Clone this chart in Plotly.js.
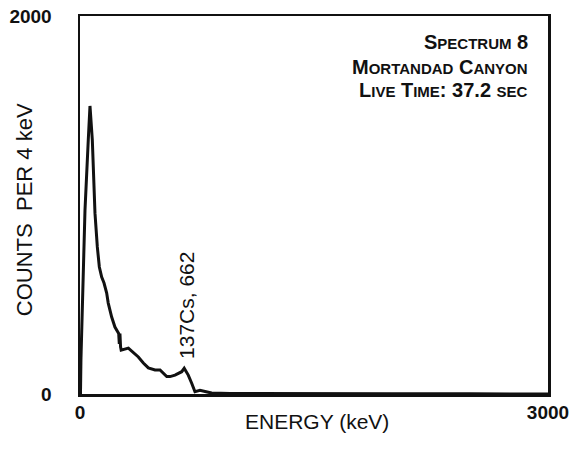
<!DOCTYPE html>
<html>
<head>
<meta charset="utf-8">
<script src="https://cdn.plot.ly/plotly-3.0.1.min.js"></script>
<style>html,body{margin:0;padding:0;background:#fff;}#chart{width:576px;height:461px;}</style>
</head>
<body>
<div id="chart"></div>
<script>
// Spectrum (energy in keV, counts per 4 keV)
const energy = [0, 3, 6, 13, 19, 32, 53, 64, 79, 96, 111, 124, 139, 154, 171, 181, 203, 224, 246,
  248, 252, 256, 260, 264, 310, 342, 374, 406, 438, 481, 513, 556, 577, 609, 652, 668, 694, 716,
  737, 769, 812, 844, 961, 1200, 1500, 2000, 2500, 3000];
const counts = [0, 0, 180, 392, 550, 973, 1344, 1524, 1344, 957, 778, 672, 619, 587, 534, 481, 407, 354, 323,
  320, 265, 320, 250, 232, 243, 222, 196, 164, 138, 127, 127, 92, 92, 100, 118, 136, 100, 57,
  12, 19, 12, 5, 3, 2, 1, 1, 1, 0];

const xTickVals = [0, 3000];
const xTickText = ['0', '3000'];
const yTickVals = [0, 2000];
const yTickText = ['0', '2000'];

const xTitle = 'ENERGY (keV)';
const yTitle = 'COUNTS\u00A0 PER 4 keV';
const peakLabel = '137Cs, 662';
const peakEnergy = 686;
const peakLabelCounts = 466;
const infoLines = ['Spectrum 8', 'Mortandad Canyon', 'Live Time: 37.2 sec'];

const FONT = 'Liberation Sans, Arial, Helvetica, sans-serif';
const INK = '#111';

// build small caps: lowercase runs become smaller uppercase
function smallCaps(str, small) {
  return str.replace(/[a-z]+/g, m => '<span style="font-size:' + small + 'px">' + m.toUpperCase() + '</span>');
}

const infoY = [0.932, 0.866, 0.805];
const annotations = infoLines.map((t, i) => ({
  xref: 'paper', yref: 'paper', x: 0.9615, y: infoY[i],
  xanchor: 'right', yanchor: 'middle', showarrow: false,
  text: smallCaps(t, 15),
  font: {family: FONT, size: 20, color: INK, weight: 'bold'}
}));
annotations.push({
  xref: 'x', yref: 'y', x: peakEnergy, y: peakLabelCounts,
  xanchor: 'center', yanchor: 'middle', showarrow: false, textangle: -90,
  text: peakLabel,
  font: {family: FONT, size: 21, color: INK}
});
// axis titles placed as annotations so they can sit where the original has them
annotations.push({
  xref: 'paper', yref: 'paper', x: 0.507, y: -0.074,
  xanchor: 'center', yanchor: 'middle', showarrow: false,
  text: xTitle,
  font: {family: FONT, size: 21, color: INK}
});
annotations.push({
  xref: 'paper', yref: 'paper', x: -0.117, y: 0.487,
  xanchor: 'center', yanchor: 'middle', showarrow: false, textangle: -90,
  text: yTitle,
  font: {family: FONT, size: 22, color: INK}
});

const trace = {
  x: energy, y: counts, type: 'scatter', mode: 'lines',
  line: {color: INK, width: 3}, hoverinfo: 'skip'
};

const axisCommon = {
  showline: true, mirror: true, linecolor: INK, linewidth: 2.5,
  showgrid: false, zeroline: false, ticks: '',
  tickfont: {family: FONT, size: 19, color: INK, weight: 'bold'}
};

const layout = {
  width: 576, height: 461,
  margin: {l: 80, r: 28, t: 16, b: 67, pad: 0},
  paper_bgcolor: '#fff', plot_bgcolor: '#fff',
  showlegend: false,
  xaxis: Object.assign({}, axisCommon, {
    range: [0, 3000], tickvals: xTickVals, ticktext: xTickText
  }),
  yaxis: Object.assign({}, axisCommon, {
    range: [0, 2000], tickvals: yTickVals, ticktext: yTickText, ticklabelstandoff: 22
  }),
  annotations: annotations
};

Plotly.newPlot('chart', [trace], layout, {staticPlot: true, displayModeBar: false});
</script>
</body>
</html>
